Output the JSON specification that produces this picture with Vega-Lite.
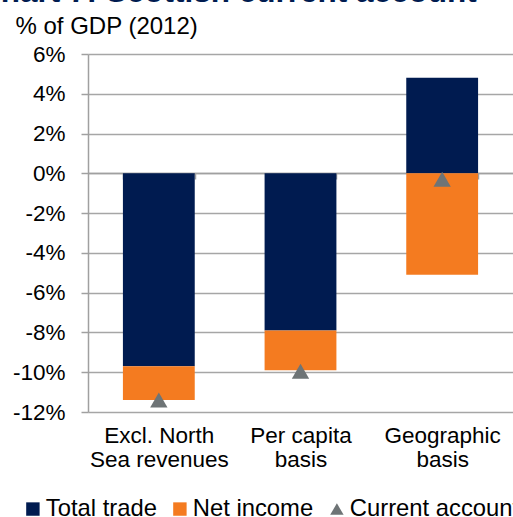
{
  "$schema": "https://vega.github.io/schema/vega-lite/v6.json",
  "width": 425,
  "height": 358,
  "autosize": {"type": "none"},
  "padding": {"left": 88, "top": 54, "right": 0, "bottom": 105},
  "background": "white",
  "title": {
    "text": "Chart 7: Scottish current account",
    "anchor": "start",
    "frame": "group",
    "font": "Liberation Sans",
    "fontSize": 31.5,
    "fontWeight": "bold",
    "color": "#001b50",
    "dx": -110,
    "dy": -2
  },
  "data": {
    "values": [
      {"category": "Excl. North Sea revenues", "series": "Total trade", "value": -9.7},
      {"category": "Excl. North Sea revenues", "series": "Net income", "value": -1.7},
      {"category": "Excl. North Sea revenues", "series": "Current account", "value": -11.4},
      {"category": "Per capita basis", "series": "Total trade", "value": -7.9},
      {"category": "Per capita basis", "series": "Net income", "value": -2.0},
      {"category": "Per capita basis", "series": "Current account", "value": -9.95},
      {"category": "Geographic basis", "series": "Total trade", "value": 4.8},
      {"category": "Geographic basis", "series": "Net income", "value": -5.1},
      {"category": "Geographic basis", "series": "Current account", "value": -0.3}
    ]
  },
  "encoding": {
    "x": {
      "field": "category",
      "type": "nominal",
      "sort": null,
      "scale": {"paddingInner": 0.493, "paddingOuter": 0.2465},
      "axis": {
        "title": null,
        "offset": -239,
        "domain": true,
        "domainColor": "#a0a0a0",
        "domainWidth": 1.5,
        "ticks": true,
        "tickBand": "extent",
        "tickSize": 6,
        "tickColor": "#a0a0a0",
        "tickWidth": 1.5,
        "grid": false,
        "labelAngle": 0,
        "labelPadding": 245,
        "labelBaseline": "top",
        "labelFont": "Liberation Sans",
        "labelFontSize": 22.5,
        "labelColor": "#000000",
        "labelLineHeight": 24,
        "labelExpr": "datum.label == 'Excl. North Sea revenues' ? ['Excl. North', 'Sea revenues'] : datum.label == 'Per capita basis' ? ['Per capita', 'basis'] : datum.label == 'Geographic basis' ? ['Geographic', 'basis'] : ''"
      }
    },
    "y": {
      "field": "value",
      "type": "quantitative",
      "scale": {"domain": [-12, 6], "nice": false},
      "axis": {
        "title": "% of GDP (2012)",
        "titleAngle": 0,
        "titleAlign": "left",
        "titleBaseline": "middle",
        "titleX": -73,
        "titleY": -28,
        "titleFont": "Liberation Sans",
        "titleFontSize": 24,
        "titleFontWeight": "normal",
        "titleColor": "#000000",
        "values": [-12, -10, -8, -6, -4, -2, 0, 2, 4, 6],
        "labelExpr": "datum.value + '%'",
        "labelFont": "Liberation Sans",
        "labelFontSize": 22.5,
        "labelColor": "#000000",
        "labelPadding": 16,
        "tickSize": 7,
        "tickColor": "#a0a0a0",
        "tickWidth": 1.5,
        "domainColor": "#a0a0a0",
        "domainWidth": 1.5,
        "grid": true,
        "gridColor": "#a6a6a6",
        "gridWidth": 1.5
      }
    }
  },
  "layer": [
    {
      "transform": [{"filter": "datum.series != 'Current account'"}],
      "mark": {"type": "bar"},
      "encoding": {
        "color": {
          "field": "series",
          "type": "nominal",
          "scale": {
            "domain": ["Total trade", "Net income", "Current account"],
            "range": ["#001b50", "#f47b20", "#6e7476"]
          },
          "legend": {
            "orient": "none",
            "direction": "horizontal",
            "legendX": -67,
            "legendY": 443,
            "title": null,
            "labelFont": "Liberation Sans",
            "labelFontSize": 23.8,
            "labelColor": "#000000",
            "labelLimit": 400,
            "symbolSize": 180,
            "symbolStrokeWidth": 0,
            "labelOffset": 1,
            "columnPadding": 11
          }
        },
        "order": {"field": "series", "type": "nominal", "sort": "descending"}
      }
    },
    {
      "transform": [{"filter": "datum.series == 'Current account'"}],
      "mark": {"type": "point", "filled": true, "opacity": 1, "size": 300},
      "encoding": {
        "color": {
          "field": "series",
          "type": "nominal",
          "scale": {
            "domain": ["Total trade", "Net income", "Current account"],
            "range": ["#001b50", "#f47b20", "#6e7476"]
          },
          "legend": {
            "orient": "none",
            "direction": "horizontal",
            "legendX": -67,
            "legendY": 443,
            "title": null,
            "labelFont": "Liberation Sans",
            "labelFontSize": 23.8,
            "labelColor": "#000000",
            "labelLimit": 400,
            "symbolSize": 180,
            "symbolStrokeWidth": 0,
            "labelOffset": 1,
            "columnPadding": 11
          }
        },
        "shape": {
          "field": "series",
          "type": "nominal",
          "scale": {
            "domain": ["Total trade", "Net income", "Current account"],
            "range": ["square", "square", "triangle-up"]
          },
          "legend": {
            "orient": "none",
            "direction": "horizontal",
            "legendX": -67,
            "legendY": 443,
            "title": null,
            "labelFont": "Liberation Sans",
            "labelFontSize": 23.8,
            "labelColor": "#000000",
            "labelLimit": 400,
            "symbolSize": 180,
            "symbolStrokeWidth": 0,
            "labelOffset": 1,
            "columnPadding": 11
          }
        }
      }
    }
  ],
  "config": {
    "view": {"stroke": null},
    "font": "Liberation Sans"
  }
}
